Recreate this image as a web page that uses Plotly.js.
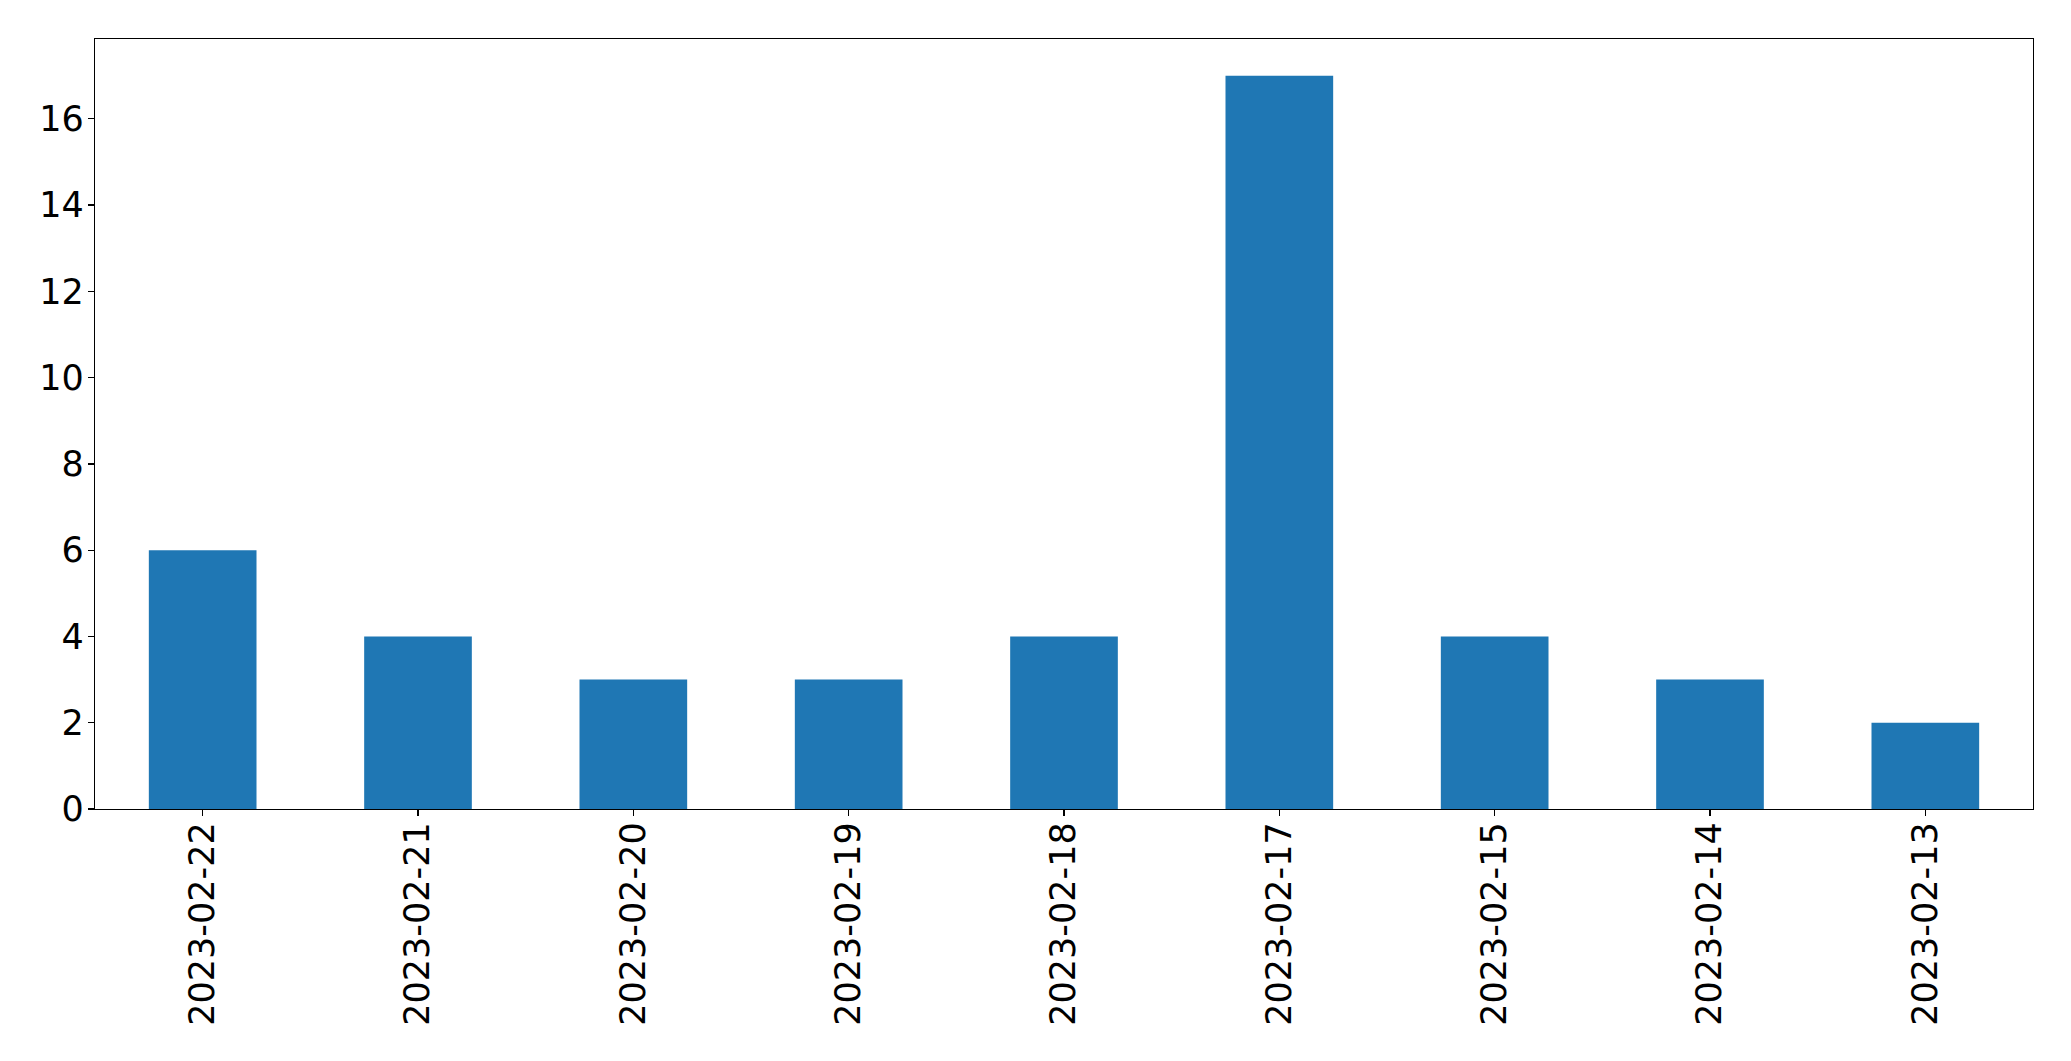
<!DOCTYPE html>
<html>
<head>
<meta charset="utf-8">
<script src="https://cdn.plot.ly/plotly-3.0.1.min.js"></script>
<style>html,body{margin:0;padding:0;background:#fff;}#chart{width:2071px;height:1061px;}</style>
</head>
<body>
<div id="chart"></div>
<script>
const dates = ["2023-02-22","2023-02-21","2023-02-20","2023-02-19","2023-02-18","2023-02-17","2023-02-15","2023-02-14","2023-02-13"];
const counts = [6, 4, 3, 3, 4, 17, 4, 3, 2];
const yTicks = [0, 2, 4, 6, 8, 10, 12, 14, 16];

const trace = {
  type: 'bar',
  x: dates,
  y: counts,
  width: 0.5,
  marker: {color: '#1f77b4', line: {width: 0}},
  hoverinfo: 'x+y'
};

const font = {family: 'DejaVu Sans, sans-serif', size: 35, color: '#000'};

const layout = {
  width: 2071,
  height: 1061,
  margin: {l: 95, r: 38, t: 39, b: 252, pad: 0},
  paper_bgcolor: '#fff',
  plot_bgcolor: '#fff',
  showlegend: false,
  font: font,
  xaxis: {
    type: 'category',
    range: [-0.5, 8.5],
    tickangle: -90,
    ticks: 'outside',
    ticklen: 6,
    tickwidth: 1.3,
    tickcolor: '#000',
    showline: true,
    mirror: true,
    linecolor: '#000',
    linewidth: 1.3,
    showgrid: false,
    zeroline: false,
    tickfont: font,
    ticklabelstandoff: -8
  },
  yaxis: {
    range: [0, 17.85],
    tickvals: yTicks,
    ticktext: yTicks.map(String),
    ticks: 'outside',
    ticklen: 6,
    tickwidth: 1.3,
    tickcolor: '#000',
    showline: true,
    mirror: true,
    linecolor: '#000',
    linewidth: 1.3,
    showgrid: false,
    zeroline: false,
    tickfont: font,
    ticklabelstandoff: -3
  }
};

Plotly.newPlot('chart', [trace], layout, {displayModeBar: false, staticPlot: true});
</script>
</body>
</html>
